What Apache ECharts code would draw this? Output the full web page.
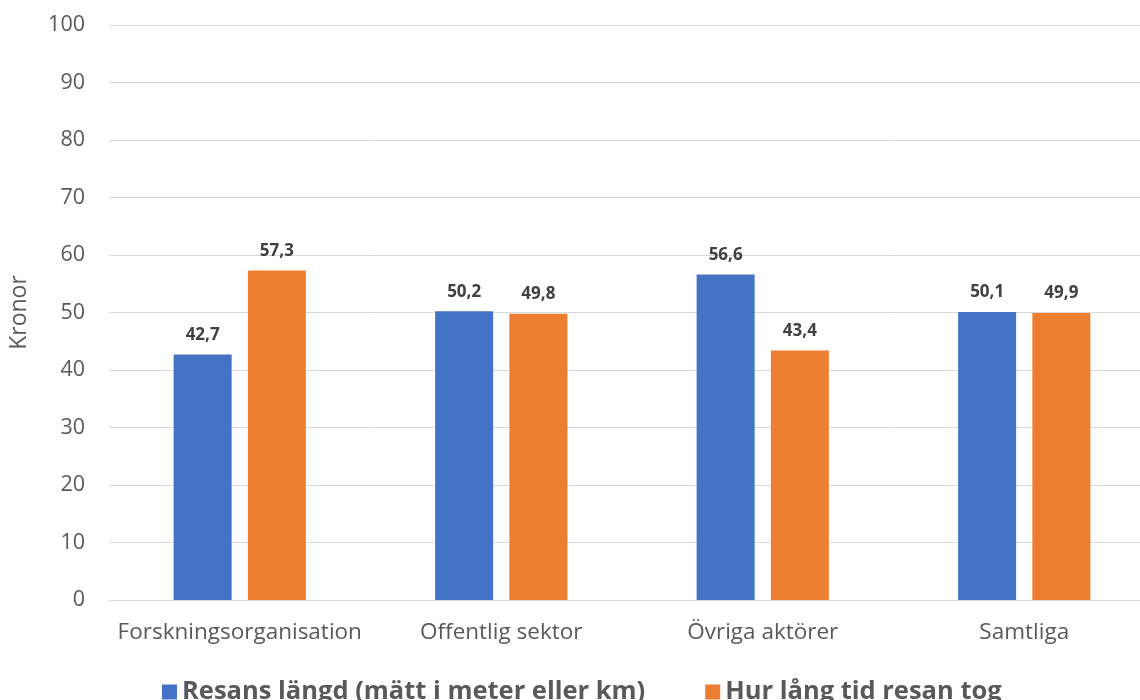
<!DOCTYPE html>
<html>
<head>
<meta charset="utf-8">
<script src="https://cdn.jsdelivr.net/npm/echarts@6/dist/echarts.min.js"></script>
<style>
  html, body { margin: 0; padding: 0; background: #ffffff; overflow: hidden; }
  /* canvas is a little wider than the window so the plot runs off the right edge */
  #chart { width: 1155px; height: 700px; }
</style>
</head>
<body>
<div id="chart"></div>
<script>
// Categories and series values (kronor)
const categories = ['Forskningsorganisation', 'Offentlig sektor', 'Övriga aktörer', 'Samtliga'];
const resansLangd = [42.7, 50.2, 56.6, 50.1];
const hurLangTid = [57.3, 49.8, 43.4, 49.9];
const seriesNames = ['Resans längd (mätt i meter eller km)', 'Hur lång tid resan tog'];

const fontFamily = '"Open Sans", "Noto Sans", sans-serif';
const fmt = p => p.value.toFixed(1).replace('.', ',');

const valueLabel = {
  show: true, position: 'top', distance: 11, formatter: fmt,
  color: '#404040', fontSize: 17, fontWeight: 'bold', fontFamily
};

const chart = echarts.init(document.getElementById('chart'), null, { renderer: 'canvas' });
chart.setOption({
  animation: false,
  textStyle: { fontFamily },
  grid: { left: 108, right: 0, top: 25, bottom: 100, containLabel: false },
  legend: {
    top: 674,
    left: 157,
    itemWidth: 15,
    itemHeight: 15,
    itemGap: 60,
    icon: 'rect',
    textStyle: { fontSize: 25.5, fontWeight: 'bold', color: '#595959', fontFamily }
  },
  xAxis: {
    type: 'category',
    data: categories,
    axisLine: { lineStyle: { color: '#d9d9d9', width: 1 } },
    axisTick: { show: false },
    axisLabel: { color: '#595959', fontSize: 22.5, margin: 21, interval: 0, fontFamily }
  },
  yAxis: {
    type: 'value',
    min: 0,
    max: 100,
    interval: 10,
    name: 'Kronor',
    nameLocation: 'middle',
    nameGap: 78,
    nameTextStyle: { color: '#595959', fontSize: 23, fontFamily },
    axisLine: { show: false },
    axisTick: { show: false },
    splitLine: { lineStyle: { color: '#d9d9d9', width: 1 } },
    axisLabel: { color: '#595959', fontSize: 21.5, margin: 24, fontFamily }
  },
  series: [
    {
      name: seriesNames[0],
      type: 'bar',
      data: resansLangd,
      barWidth: 58,
      barGap: '28%',
      itemStyle: { color: '#4472c4' },
      label: valueLabel
    },
    {
      name: seriesNames[1],
      type: 'bar',
      data: hurLangTid,
      barWidth: 58,
      barGap: '28%',
      itemStyle: { color: '#ed7d31' },
      label: valueLabel
    }
  ]
});
</script>
</body>
</html>
